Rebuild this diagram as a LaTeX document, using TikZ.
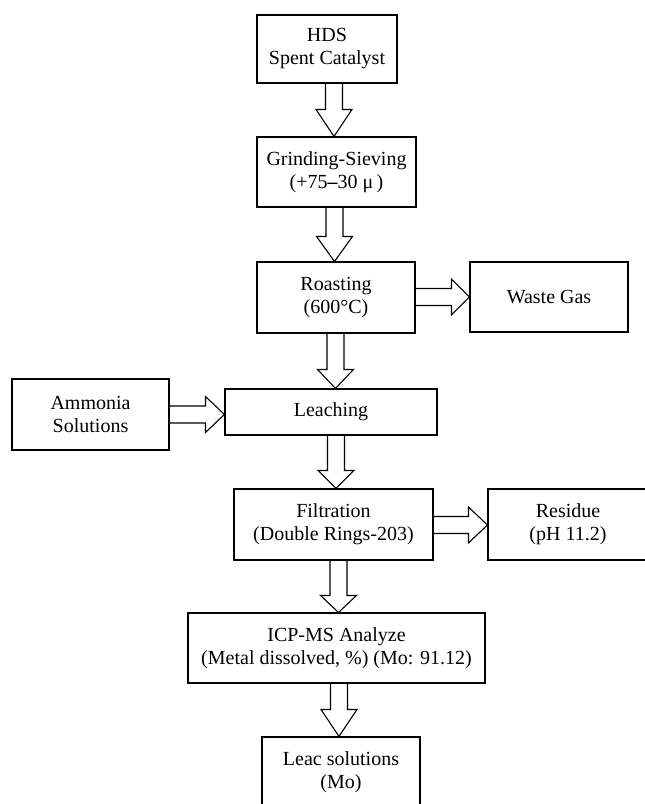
\documentclass[tikz,border=0pt]{standalone}
\usepackage{fontspec}
\setmainfont{Liberation Serif}
\usepackage{tikz}
\usetikzlibrary{calc}

\newcommand{\downflow}[4]{%
  \draw[flow] let \p1=(#3,0 |- #1.south), \p2=(#3,0 |- #2.north) in
    (\x1-8.5pt,\y1) -- (\x1-8.5pt,\y2+#4pt) -- (\x1-18pt,\y2+#4pt) -- (\x2,\y2)
    -- (\x1+18pt,\y2+#4pt) -- (\x1+8.5pt,\y2+#4pt) -- (\x1+8.5pt,\y1);}
\newcommand{\rightflow}[4]{%
  \draw[flow] let \p1=(#1.east |- 0,#3), \p2=(#2.west |- 0,#3) in
    (\x1,\y1+8.5pt) -- (\x2-#4pt,\y1+8.5pt) -- (\x2-#4pt,\y1+18pt) -- (\x2,\y2)
    -- (\x2-#4pt,\y1-18pt) -- (\x2-#4pt,\y1-8.5pt) -- (\x1,\y1-8.5pt);}

\begin{document}
\begin{tikzpicture}[x=1pt,y=-1pt,
  stage/.style={draw,line width=1.1pt,inner sep=0pt,align=center,
    font=\fontsize{20}{23}\selectfont},
  flow/.style={draw,line width=1.1pt,line join=miter}]
				\useasboundingbox (0,0) rectangle (645,804);
				\clip (0,0) rectangle (645,804);
				\node[stage,minimum width=140pt,minimum height=68pt] (hds) at (327,49) {HDS\\Spent Catalyst};
				\node[stage,minimum width=159pt,minimum height=70pt] (grind) at (336.5,172) {Grinding-Sieving\\(+75\textbf{–}30 μ\,)};
				\node[stage,minimum width=158pt,minimum height=71pt] (roast) at (336,297.5) {Roasting\\(600°C)};
				\node[stage,minimum width=158pt,minimum height=70pt] (waste) at (549,297) {Waste Gas};
				\node[stage,minimum width=157pt,minimum height=71pt] (ammonia) at (90.5,414.5) {Ammonia\\Solutions};
				\node[stage,minimum width=212pt,minimum height=46pt] (leach) at (331,412) {Leaching};
				\node[stage,minimum width=199pt,minimum height=71pt] (filt) at (333.5,524.5) {Filtration\\(Double Rings-203)};
				\node[stage,minimum width=160pt,minimum height=71pt] (residue) at (568,524.5) {Residue\\(pH 11.2)};
				\node[stage,minimum width=297pt,minimum height=70pt] (icp) at (336.5,648) {ICP-MS Analyze\\(Metal dissolved, \%) (Mo: 91.12)};
				\node[stage,minimum width=158pt,minimum height=70pt] (leac) at (341,772) {Leac solutions\\(Mo)};
				\downflow{hds}{grind}{334}{27}
				\downflow{grind}{roast}{334.5}{25}
				\downflow{roast}{leach}{335.5}{19}
				\downflow{leach}{filt}{336}{18}
				\downflow{filt}{icp}{338.5}{17}
				\downflow{icp}{leac}{339}{27}
				\rightflow{roast}{waste}{297}{18}
				\rightflow{ammonia}{leach}{414.5}{19}
				\rightflow{filt}{residue}{525}{19}
			\end{tikzpicture}
\end{document}
